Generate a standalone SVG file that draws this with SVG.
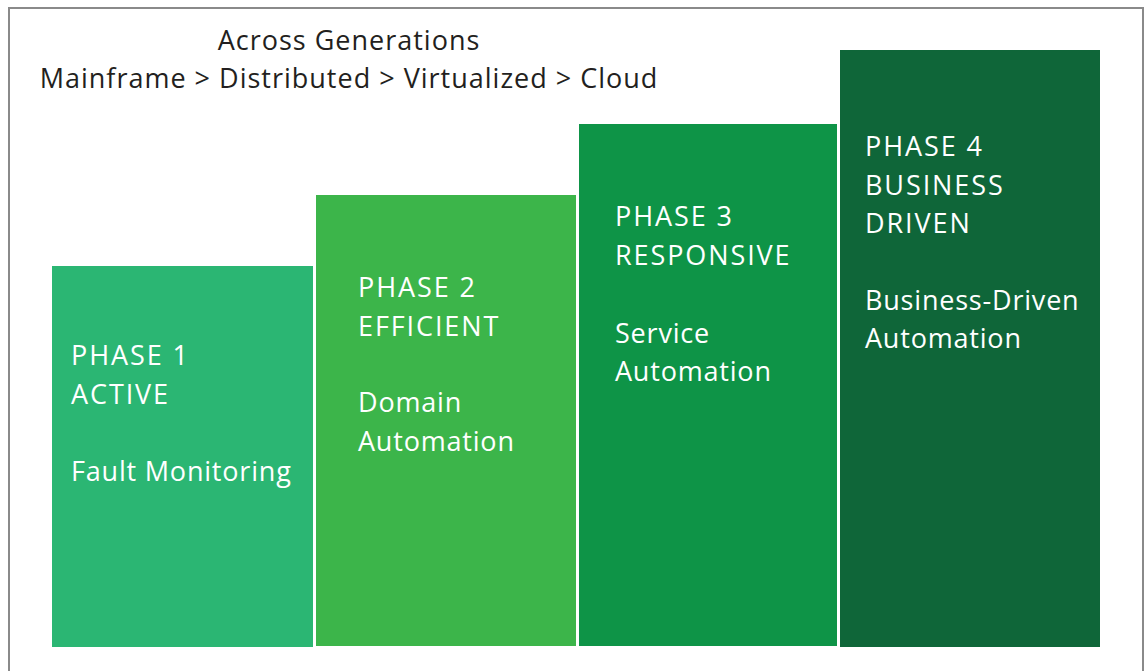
<svg xmlns="http://www.w3.org/2000/svg" width="1144" height="671" viewBox="0 0 1144 671">
  <style>
    .frame { fill: #ffffff; stroke: #8a8a8a; stroke-width: 2; }
    .head { font-family: "Open Sans", Lato, "Liberation Sans", sans-serif; font-size: 27px; letter-spacing: 1px; fill: #231f20; }
    .lbl { font-family: "Open Sans", Lato, "Liberation Sans", sans-serif; font-size: 27px; letter-spacing: 0.8px; fill: #ffffff; }
    .caps { letter-spacing: 1.9px; }
    .p1 { fill: #2bb673; }
    .p2 { fill: #3cb54a; }
    .p3 { fill: #0e9447; }
    .p4 { fill: #0f6639; }
  </style>
  <rect x="0" y="0" width="1144" height="671" fill="#ffffff"/>
  <!-- outer frame, open at the bottom -->
  <path class="frame" d="M9 671 V8 H1143 V671" fill="none"/>

  <g id="heading">
    <text class="head" x="349" y="50" text-anchor="middle">Across Generations</text>
    <text class="head" x="349" y="88" text-anchor="middle">Mainframe &gt; Distributed &gt; Virtualized &gt; Cloud</text>
  </g>

  <g id="phase1">
    <rect class="p1" x="52" y="266" width="261" height="381"/>
    <text class="lbl caps" x="71" y="365">PHASE 1</text>
    <text class="lbl caps" x="71" y="404">ACTIVE</text>
    <text class="lbl" x="71" y="481">Fault Monitoring</text>
  </g>

  <g id="phase2">
    <rect class="p2" x="316" y="195" width="260" height="451"/>
    <text class="lbl caps" x="358" y="297">PHASE 2</text>
    <text class="lbl caps" x="358" y="336">EFFICIENT</text>
    <text class="lbl" x="358" y="412">Domain</text>
    <text class="lbl" x="358" y="451">Automation</text>
  </g>

  <g id="phase3">
    <rect class="p3" x="579" y="124" width="258" height="522"/>
    <text class="lbl caps" x="615" y="226">PHASE 3</text>
    <text class="lbl caps" x="615" y="265">RESPONSIVE</text>
    <text class="lbl" x="615" y="343">Service</text>
    <text class="lbl" x="615" y="381">Automation</text>
  </g>

  <g id="phase4">
    <rect class="p4" x="840" y="50" width="260" height="597"/>
    <text class="lbl caps" x="865" y="156">PHASE 4</text>
    <text class="lbl caps" x="865" y="195">BUSINESS</text>
    <text class="lbl caps" x="865" y="233">DRIVEN</text>
    <text class="lbl" x="865" y="310">Business-Driven</text>
    <text class="lbl" x="865" y="348">Automation</text>
  </g>

  <g id="connectors"/>
</svg>
